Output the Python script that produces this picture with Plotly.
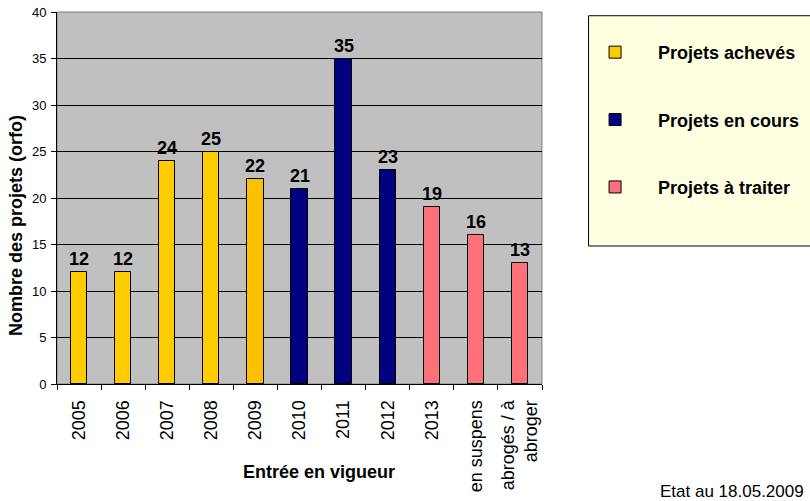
import plotly.graph_objects as go

# ---------- data ----------
categories = ["2005", "2006", "2007", "2008", "2009", "2010", "2011", "2012",
              "2013", "en suspens", "abrogés / à<br>abroger"]
acheves = [12, 12, 24, 25, 22]
en_cours = [21, 35, 23]
a_traiter = [19, 16, 13]
y_ticks = [0, 5, 10, 15, 20, 25, 30, 35, 40]

FONT = "Liberation Sans, Arial, sans-serif"

groups = [
    ("Projets achevés", categories[0:5], acheves,
     ["#FFCC00", "#FFCC00", "#FFCC00", "#FFCC00", "#FFC000"]),
    ("Projets en cours", categories[5:8], en_cours, "#000080"),
    ("Projets à traiter", categories[8:11], a_traiter, "#FF7078"),
]

fig = go.Figure()
for i, (name, xs, ys, col) in enumerate(groups):
    fig.add_trace(go.Bar(
        x=xs, y=ys, name=name, legendgroup=str(i),
        marker=dict(color=col, line=dict(color="black", width=1)),
        width=0.37, showlegend=True,
    ))
    # value labels, a bit above each bar (category index as x position)
    for xv, yv in zip(xs, ys):
        fig.add_annotation(x=categories.index(xv), y=yv, text=f"<b>{yv}</b>",
                           showarrow=False, yanchor="bottom", yshift=1,
                           font=dict(family=FONT, size=18, color="black"))

fig.update_layout(
    width=810, height=501,
    margin=dict(l=57, r=268, t=12, b=117, autoexpand=False),
    paper_bgcolor="white", plot_bgcolor="#C0C0C0",
    font=dict(family=FONT, size=12, color="black"),
    barmode="overlay", bargap=0,
    legend=dict(
        x=1.062, y=0.941, xanchor="left", yanchor="top",
        bgcolor="rgba(0,0,0,0)", borderwidth=0,
        font=dict(family=FONT, size=18, color="black", weight="bold"),
        tracegroupgap=41, itemwidth=76,
    ),
    xaxis=dict(
        categoryorder="array", categoryarray=categories,
        tickangle=-90, ticks="outside", ticklen=5, tickcolor="black",
        tickson="boundaries", showline=True, linecolor="black",
        showgrid=False, tickfont=dict(family=FONT, size=18),
        ticklabelstandoff=8,
        range=[-0.5, 10.5], automargin=False,
    ),
    yaxis=dict(
        range=[0, 40], tickvals=y_ticks, ticks="outside", ticklen=5,
        tickcolor="black", showline=True, linecolor="black",
        showgrid=True, gridcolor="black", gridwidth=1,
        tickfont=dict(family=FONT, size=13), zeroline=False,
        ticklabelstandoff=2, automargin=False,
    ),
    shapes=[
        dict(type="rect", xref="paper", yref="paper", x0=0, x1=1, y0=0, y1=1,
             line=dict(color="#808080", width=1), layer="below"),
        dict(type="rect", xref="paper", yref="paper", x0=1.096, x1=1.6,
             y0=0.371, y1=0.99, fillcolor="#FFFFE2",
             line=dict(color="black", width=1), layer="below"),
    ],
)

fig.add_annotation(text="<b>Entrée en vigueur</b>", xref="paper", yref="paper",
                   x=0.54, y=-0.237, showarrow=False, xanchor="center",
                   yanchor="middle", font=dict(family=FONT, size=18))
fig.add_annotation(text="<b>Nombre des projets (orfo)</b>", xref="paper",
                   yref="paper", x=-0.0845, y=0.425, textangle=-90,
                   showarrow=False, xanchor="center", yanchor="middle",
                   font=dict(family=FONT, size=18))
fig.add_annotation(text="Etat au 18.05.2009", xref="paper", yref="paper",
                   x=1.24, y=-0.29, showarrow=False, xanchor="left",
                   yanchor="middle", font=dict(family=FONT, size=17))

fig.write_html("out.html", config={"displayModeBar": False},
               post_script="document.body.style.margin='0';")
